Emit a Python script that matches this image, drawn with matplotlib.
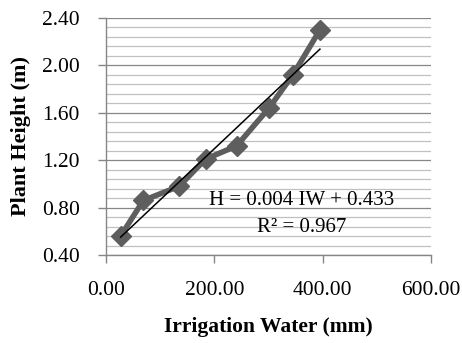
import numpy as np
import matplotlib
matplotlib.use("Agg")
import matplotlib.pyplot as plt
from matplotlib.ticker import MultipleLocator, FormatStrFormatter

# Irrigation water applied (mm) and resulting plant height (m)
irrigation_mm = [27, 69, 135, 184, 241, 301, 345, 395]
plant_height_m = [0.56, 0.86, 0.98, 1.21, 1.32, 1.64, 1.92, 2.30]

x_ticks = [0, 200, 400, 600]
y_ticks = [0.40, 0.80, 1.20, 1.60, 2.00, 2.40]

equation_text = "H = 0.004 IW + 0.433"
r2_text = "R² = 0.967"

plt.rcParams["font.family"] = ["Liberation Serif", "DejaVu Serif"]

fig = plt.figure(figsize=(4.62, 3.43), dpi=100)
ax = fig.add_axes([0.2294, 0.2566, 0.7035, 0.6909])

# gridlines: light minor every 0.08, darker major every 0.40
ax.yaxis.set_minor_locator(MultipleLocator(0.08))
ax.grid(which="minor", axis="y", color="#c0c0c0", linewidth=0.9, zorder=0)
ax.grid(which="major", axis="y", color="#868686", linewidth=0.9, zorder=0)
ax.tick_params(which="minor", left=False)

x = np.array(irrigation_mm, dtype=float)
y = np.array(plant_height_m, dtype=float)

ax.plot(x, y, color="#5e5e5e", linewidth=4, marker="D", markersize=10,
        markeredgecolor="#5e5e5e", markerfacecolor="#5e5e5e", zorder=3)

# linear trendline
slope, intercept = np.polyfit(x, y, 1)
xs = np.array([x.min(), x.max()])
ax.plot(xs, slope * xs + intercept, color="black", linewidth=1.1, zorder=4)

ax.text(361, 0.864, equation_text, ha="center", va="center", fontsize=15, zorder=5)
ax.text(361, 0.63, r2_text, ha="center", va="center", fontsize=15, zorder=5)

ax.set_xlim(0, 600)
ax.set_ylim(0.40, 2.40)
ax.set_xticks(x_ticks)
ax.set_yticks(y_ticks)
ax.xaxis.set_major_formatter(FormatStrFormatter("%.2f"))
ax.yaxis.set_major_formatter(FormatStrFormatter("%.2f"))

for side in ["top", "right"]:
    ax.spines[side].set_visible(False)
for side in ["left", "bottom"]:
    ax.spines[side].set_color("#868686")
    ax.spines[side].set_linewidth(1.0)

ax.tick_params(axis="both", which="major", direction="out", length=6,
               width=1.0, color="#868686", labelsize=15.5, colors="black")
ax.tick_params(axis="x", pad=13)
ax.tick_params(axis="y", pad=13)
ax.tick_params(axis="both", which="major", color="#868686")

ax.set_ylabel("Plant Height (m)", fontsize=16, fontweight="bold", labelpad=8)
ax.set_xlabel("Irrigation Water (mm)", fontsize=15.5, fontweight="bold", labelpad=12)

fig.savefig("out.png", dpi=100)
